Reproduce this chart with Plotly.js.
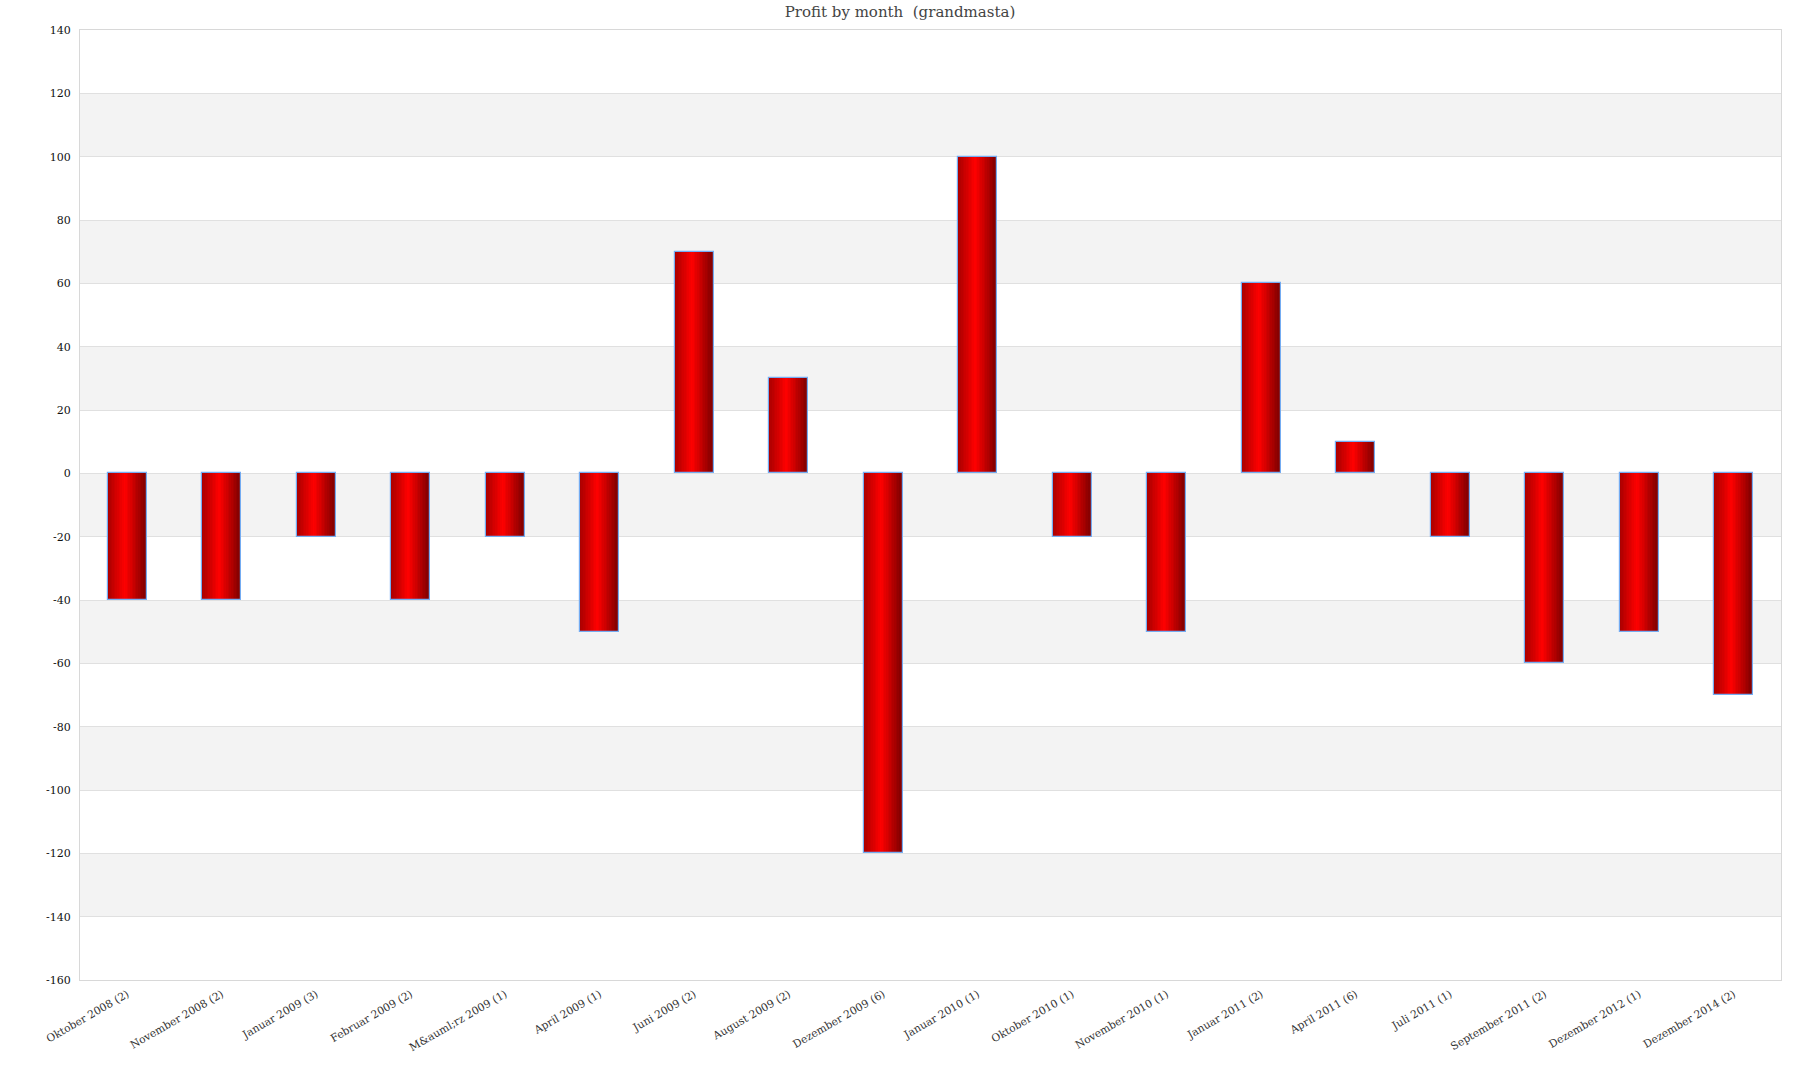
<!DOCTYPE html>
<html>
<head>
<meta charset="utf-8">
<script src="https://cdn.plot.ly/plotly-3.0.1.min.js"></script>
<style>html,body{margin:0;padding:0;background:#fff;}#chart{width:1800px;height:1080px;}</style>
</head>
<body>
<div id="chart"></div>
<script>
const months = [
  "Oktober 2008 (2)", "November 2008 (2)", "Januar 2009 (3)", "Februar 2009 (2)",
  "M&amp;auml;rz 2009 (1)", "April 2009 (1)", "Juni 2009 (2)", "August 2009 (2)",
  "Dezember 2009 (6)", "Januar 2010 (1)", "Oktober 2010 (1)", "November 2010 (1)",
  "Januar 2011 (2)", "April 2011 (6)", "Juli 2011 (1)", "September 2011 (2)",
  "Dezember 2012 (1)", "Dezember 2014 (2)"
];
const profit = [-40, -40, -20, -40, -20, -50, 70, 30, -120, 100, -20, -50, 60, 10, -20, -60, -50, -70];
const yTicks = [-160, -140, -120, -100, -80, -60, -40, -20, 0, 20, 40, 60, 80, 100, 120, 140];

const FONT = "Georgia, 'DejaVu Serif', serif";
const BAR_W = 0.41;
const N = 24;

function lerp(a, b, t) { return Math.round(a + (b - a) * t); }
function gradColor(t) {
  const stops = [[0, [168, 0, 0]], [0.45, [255, 0, 0]], [1, [122, 0, 0]]];
  for (let i = 0; i < stops.length - 1; i++) {
    const [p0, c0] = stops[i], [p1, c1] = stops[i + 1];
    if (t >= p0 && t <= p1) {
      const u = (t - p0) / (p1 - p0);
      return `rgb(${lerp(c0[0], c1[0], u)},${lerp(c0[1], c1[1], u)},${lerp(c0[2], c1[2], u)})`;
    }
  }
  return 'rgb(122,0,0)';
}

const traces = [];
const sw = BAR_W / N;
for (let k = 0; k < N; k++) {
  traces.push({
    type: 'bar', x: months, y: profit,
    width: sw * 1.02, offset: -BAR_W / 2 + k * sw,
    marker: { color: gradColor((k + 0.5) / N), line: { width: 0 } },
    hoverinfo: 'skip', showlegend: false
  });
}
traces.push({
  type: 'bar', x: months, y: profit,
  width: BAR_W, offset: -BAR_W / 2,
  marker: { color: 'rgba(0,0,0,0)', line: { color: '#74acf2', width: 1.2 } },
  hovertemplate: '%{x}: %{y}<extra></extra>', showlegend: false
});

const shapes = [];
for (let v = -140; v < 140; v += 40) {
  shapes.push({ type: 'rect', xref: 'paper', yref: 'y', x0: 0, x1: 1, y0: v, y1: v + 20,
    fillcolor: '#f3f3f3', line: { width: 0 }, layer: 'below' });
}

const layout = {
  width: 1800, height: 1080,
  margin: { l: 80, r: 19, t: 30, b: 100 },
  paper_bgcolor: '#ffffff', plot_bgcolor: '#ffffff',
  barmode: 'overlay', bargap: 0,
  title: { text: 'Profit by month  (grandmasta)', x: 0.5, xanchor: 'center', y: 0.989, yanchor: 'middle',
    font: { family: FONT, size: 15, color: '#444444' } },
  font: { family: FONT, color: '#222222' },
  xaxis: {
    type: 'category', tickangle: -30, tickfont: { family: FONT, size: 10.7, color: '#333333' },
    showgrid: false, showline: true, linecolor: '#d8d8d8', linewidth: 1, mirror: true,
    ticks: '', ticklabelstandoff: 3, automargin: false
  },
  yaxis: {
    range: [-160, 140], tickvals: yTicks, ticktext: yTicks.map(String),
    tickfont: { family: FONT, size: 11, color: '#111111' },
    showgrid: true, gridcolor: '#e0e0e0', gridwidth: 1,
    zeroline: false, showline: true, linecolor: '#d8d8d8', linewidth: 1, mirror: true,
    ticks: '', ticklabelstandoff: 6, automargin: false
  },
  shapes: shapes
};

Plotly.newPlot('chart', traces, layout, { displayModeBar: false });
</script>
</body>
</html>
